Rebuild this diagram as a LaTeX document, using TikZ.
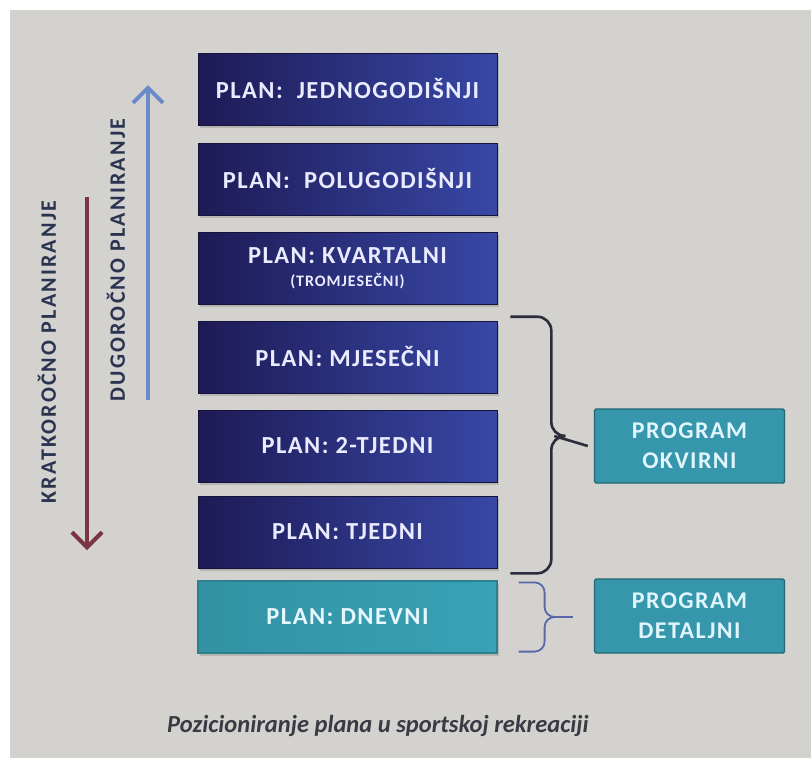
\documentclass[tikz,border=0pt]{standalone}
\usepackage{fontspec}
\setmainfont{Carlito}
\usetikzlibrary{arrows.meta,calc,shadows}
\definecolor{paper}{HTML}{D3D2CE}
\definecolor{navyL}{HTML}{1E1A55}
\definecolor{navyR}{HTML}{3848A6}
\definecolor{tealF}{HTML}{38A2B6}
\definecolor{tealD}{HTML}{2B7F8E}
\definecolor{progF}{HTML}{3596AC}
\definecolor{labelC}{HTML}{2A3350}
\definecolor{blueArr}{HTML}{6B8ACB}
\definecolor{redArr}{HTML}{7A3444}
\definecolor{braceB}{HTML}{5868A8}
\definecolor{braceK}{HTML}{2C2C3A}
\definecolor{capC}{HTML}{3A3A44}
\newfontfamily\spaced[LetterSpace=6]{Carlito}
\newfontfamily\spacedw[LetterSpace=10]{Carlito}
\tikzset{
  planbox/.style={minimum width=299pt, minimum height=72pt, inner sep=0pt,
    left color=navyL, right color=navyR, draw=navyL!70!black, line width=0.6pt,
    text=white!92!blue, font=\spaced\bfseries\fontsize{24.5}{27}\selectfont, align=center,
    drop shadow={shadow xshift=1.5pt, shadow yshift=-2.5pt, opacity=0.35}},
  dailybox/.style={planbox, left color=tealF!90!black, right color=tealF, draw=tealD, line width=1.2pt,
    text=white!90!cyan},
  progbox/.style={minimum width=190pt, minimum height=74pt, inner sep=0pt,
    fill=progF, draw=tealD!80!black, line width=1.4pt, rounded corners=1.5pt,
    text=white!88!cyan, font=\spaced\bfseries\fontsize{24}{30}\selectfont, align=center},
  sidelabel/.style={text=labelC, font=\spacedw\bfseries\fontsize{22}{24}\selectfont, rotate=90},
  bigarrow/.style={line width=4pt, -{Straight Barb[length=15pt,width=30pt,line width=4pt]}},
  bracek/.style={draw=braceK, line width=2.6pt, rounded corners=14pt},
  braceb/.style={draw=braceB, line width=1.8pt, rounded corners=10pt},
}
\begin{document}
\begin{tikzpicture}[x=1pt,y=-1pt]
\fill[white] (0,0) rectangle (811,758);
\fill[paper] (10,10) rectangle (811,758);
\useasboundingbox (0,0) rectangle (811,758);

\node[planbox] (b1) at (347.5,89) {PLAN:\ \ JEDNOGODIŠNJI};
\node[planbox] (b2) at (347.5,179) {PLAN:\ \ POLUGODIŠNJI};
\node[planbox] (b3) at (347.5,268) {PLAN: KVARTALNI\\[-4pt]{\fontsize{16}{18}\selectfont (TROMJESEČNI)}};
\node[planbox] (b4) at (347.5,357) {PLAN: MJESEČNI};
\node[planbox] (b5) at (347.5,446) {PLAN: 2-TJEDNI};
\node[planbox] (b6) at (347.5,532) {PLAN: TJEDNI};
\node[dailybox] (b7) at (347.5,617) {PLAN: DNEVNI};

\node[progbox] (ok) at (689.5,446) {PROGRAM\\OKVIRNI};
\node[progbox] (dt) at (689.5,616) {PROGRAM\\DETALJNI};

% big brace (monthly .. weekly)
\coordinate (bt) at ($(b4.north east)+(13,-4)$);
\coordinate (bb) at ($(b6.south east)+(13,5)$);
\coordinate (bm) at ($(bt)!0.5!(bb)+(0,-9)$);
\path[bracek] (bt) -- ++(41,0) |- ($(bm)+(48,0)$);
\path[bracek] (bb) -- ++(41,0) |- ($(bm)+(48,0)$);
\draw[braceK, line width=2.6pt] ($(bm)+(44,0)$) -- ([xshift=-6pt]ok.west);

% small brace (daily)
\coordinate (st) at ($(b7.north east)+(21,2)$);
\coordinate (sb) at ($(b7.south east)+(21,-2)$);
\coordinate (sm) at ($(st)!0.5!(sb)+(54,0)$);
\path[braceb] (st) -- ++(26,0) |- (sm);
\path[braceb] (sb) -- ++(26,0) |- (sm);
\draw[braceB, line width=1.8pt] ($(sm)+(-20,0)$) -- ([xshift=-21pt]dt.west |- sm);

% side arrows
\coordinate (blA) at (148,400);
\coordinate (blB) at (148,85);
\draw[bigarrow, blueArr] (blA) -- (blB);
\coordinate (rdA) at (87,197);
\coordinate (rdB) at (87,550);
\draw[bigarrow, redArr] (rdA) -- (rdB);

\node[sidelabel] (kr) at (47,352) {KRATKOROČNO\ PLANIRANJE};
\node[sidelabel] (du) at (116,260) {DUGOROČNO\ PLANIRANJE};

\node[text=capC, font=\bfseries\itshape\fontsize{24.5}{27}\selectfont] (cap) at (378,726)
  {Pozicioniranje plana u sportskoj rekreaciji};
\end{tikzpicture}
\end{document}
